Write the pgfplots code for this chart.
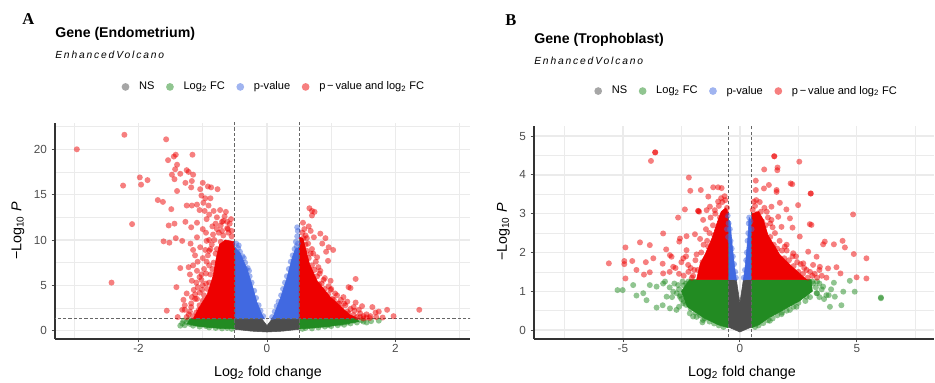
\documentclass[border=0pt]{standalone}
\usepackage{fontspec}
\setmainfont{Liberation Sans}
\newfontfamily\serifb{Liberation Serif}
\usepackage{pgfplots}
\pgfplotsset{compat=1.18}
\definecolor{nsc}{HTML}{4D4D4D}
\definecolor{fcc}{HTML}{228B22}
\definecolor{pvc}{HTML}{4169E1}
\definecolor{bothc}{HTML}{EE0000}
\definecolor{gridc}{HTML}{EBEBEB}
\definecolor{tickc}{HTML}{4D4D4D}
\pgfplotsset{
 legend image code/.code={\draw[#1] plot coordinates {(0pt,0pt)}; \path (-2.9pt,0pt) (8pt,0pt);},
 volc/.style={
  scale only axis,
  axis x line*=bottom, axis y line*=left,
  axis line style={draw=black!80, line width=0.8pt},
  tick align=outside,
  major tick length=2.5pt,
  minor tick length=0pt,
  tick style={draw=black!70, line width=0.6pt},
  grid=both,
  major grid style={draw=gridc, line width=1pt},
  minor grid style={draw=gridc, line width=0.55pt},
  tick label style={font=\fontsize{8.8}{10}\selectfont, text=tickc},
  xticklabel style={yshift=2pt},
  legend columns=4,
  legend style={draw=none, fill=none, font=\fontsize{8.3}{10}\selectfont, anchor=center,
    /tikz/every even column/.append style={column sep=6.5pt}},
 },
 pts/.style={only marks, mark=*, mark size=2.25pt, color=#1, mark options={solid, fill=#1, draw opacity=0, fill opacity=0.5}, forget plot},
 poly/.style={fill=#1, draw=#1, line width=0.4pt, forget plot},
 lg/.style={only marks, mark=*, mark size=2.9pt, color=#1, mark options={solid, fill=#1, draw opacity=0, fill opacity=0.5}},
 cut/.style={forget plot, draw=black!60, dash pattern=on 2.4pt off 1.6pt, line width=0.6pt},
}
\begin{document}
\begin{tikzpicture}
\useasboundingbox (0,0) rectangle (701.25pt,286.5pt);
% ---------------- Panel A ----------------
\begin{axis}[volc, at={(41.25pt,32.25pt)}, anchor=south west, width=311.25pt, height=162pt,
  xmin=-3.3, xmax=3.16, ymin=-0.92, ymax=22.9,
  xtick={-2,0,2}, xticklabels={-2,0,2}, minor xtick={-3,-1,1,3},
  ytick={0,5,10,15,20}, yticklabels={0,5,10,15,20}, minor ytick={2.5,7.5,12.5,17.5,22.5},
  legend style={at={(0.528,1.167)}}]
\addlegendimage{lg=nsc}\addlegendentry{NS}
\addlegendimage{lg=fcc}\addlegendentry{Log\textsubscript{2} FC}
\addlegendimage{lg=pvc}\addlegendentry{p-value}
\addlegendimage{lg=bothc}\addlegendentry{p\,\textminus\,value and log\textsubscript{2} FC}
% dense cores
\addplot[poly=nsc] coordinates {(-0.5,0.15) (-0.5,1.3) (-0.08,1.3) (0,0.55) (0.08,1.3) (0.5,1.3) (0.5,0.15) (0.25,-0.05) (0,-0.15) (-0.25,-0.05)} --cycle;
\addplot[poly=fcc] coordinates {(-0.5,0.2) (-0.5,1.3) (-1.2,1.3) (-1.24,0.75) (-1.1,0.5) (-0.9,0.35) (-0.7,0.25)} --cycle;
\addplot[poly=fcc] coordinates {(0.5,0.2) (0.5,1.3) (1.4,1.3) (1.43,1.0) (1.2,0.7) (0.95,0.45) (0.7,0.28)} --cycle;
\addplot[poly=pvc] coordinates {(-0.5,1.3) (-0.5,9.2) (-0.42,8.6) (-0.31,6.8) (-0.23,5.0) (-0.16,3.2) (-0.08,1.8) (-0.04,1.3)} --cycle;
\addplot[poly=pvc] coordinates {(0.07,1.3) (0.1,1.6) (0.21,3.6) (0.31,5.8) (0.39,8.0) (0.44,9.0) (0.5,9.2) (0.5,1.3)} --cycle;
\addplot[poly=bothc] coordinates {(-0.5,1.3) (-1.15,1.3) (-1.06,2.5) (-0.93,4) (-0.84,6) (-0.79,8) (-0.74,9.5) (-0.65,10.0) (-0.5,9.8)} --cycle;
\addplot[poly=bothc] coordinates {(0.5,1.3) (0.5,10.3) (0.56,10.2) (0.66,7.4) (0.78,5.5) (0.98,3.75) (1.28,1.8) (1.43,1.3)} --cycle;
% scattered points
\addplot[pts=fcc] coordinates {(-1.35,0.55) (-1.32,0.8) (-1.28,0.6) (-1.25,0.95) (-1.2,0.75) (-1.15,0.55) (-1.1,0.9) (-1.05,0.45) (-1.0,0.7) (-0.95,0.5) (-0.9,0.35) (-0.85,0.6) (-0.8,0.3) (-0.75,0.45) (-0.7,0.25) (-0.62,0.3) (-0.55,0.2) (-1.3,1.1) (-1.22,1.2)
 (0.55,0.2) (0.6,0.3) (0.7,0.25) (0.8,0.35) (0.9,0.45) (1.0,0.5) (1.1,0.6) (1.2,0.65) (1.3,0.8) (1.4,0.9) (1.5,1.0) (1.55,0.9) (1.62,1.05) (1.74,1.1) (1.47,1.15) (1.35,1.1) (1.25,0.9) (1.15,0.8) (0.95,0.6)};
\addplot[pts=pvc] coordinates {(-0.48,9.6) (-0.45,9.1) (-0.42,8.7) (-0.38,8.2) (-0.34,7.5) (-0.3,6.9) (-0.27,6.0) (-0.24,5.3) (-0.2,4.4) (-0.17,3.6) (-0.13,2.8) (-0.1,2.2) (-0.06,1.6) (-0.36,8.0) (-0.33,6.8) (-0.28,6.6) (-0.44,9.4)
 (0.08,1.5) (0.12,2.1) (0.15,2.7) (0.18,3.2) (0.22,3.9) (0.25,4.6) (0.28,5.3) (0.31,6.0) (0.34,6.8) (0.37,7.6) (0.4,8.3) (0.43,9.0) (0.46,9.3) (0.48,9.6) (0.47,10.4) (0.48,11.0) (0.47,11.4) (0.45,9.8)};
\addplot[pts=bothc] coordinates {
 (-2.96,20.0) (-2.22,21.6) (-2.24,16.0) (-1.98,16.9) (-1.96,16.1) (-1.86,16.6) (-2.10,11.75) (-2.42,5.3)
 (-1.57,21.1) (-1.70,14.4) (-1.62,14.2) (-1.54,18.8) (-1.45,19.2) (-1.42,19.4) (-1.48,17.2) (-1.44,16.7)
 (-1.40,18.3) (-1.43,17.8) (-1.35,17.3) (-1.40,15.4) (-1.49,13.4) (-1.53,11.6) (-1.44,11.8) (-1.61,9.85)
 (-1.52,9.7) (-1.42,10.2) (-1.35,6.9) (-1.41,4.8) (-1.56,2.2) (-1.32,2.3) (-1.28,2.3) (-1.39,1.5)
 (-1.16,19.4) (-1.25,17.7) (-1.22,17.5) (-1.15,17.2) (-1.27,16.3) (-1.17,16.5) (-1.18,15.8) (-1.04,15.6)
 (-1.00,16.3) (-0.92,15.9) (-0.87,15.8) (-0.77,15.6) (-1.02,14.9) (-0.96,14.6) (-0.88,14.6) (-1.25,13.8)
 (-1.17,13.8) (-1.09,13.9) (-0.99,14.1) (-0.91,13.8) (-1.05,13.3) (-0.97,13.2) (-0.83,13.2) (-0.73,13.3)
 (-0.64,13.1) (-0.56,12.3) (-1.27,12.0) (-1.18,11.4) (-1.09,11.9) (-0.94,12.3) (-0.78,12.5) (-0.68,12.1)
 (-0.61,11.2) (-1.32,9.9) (-1.19,9.6) (-1.09,10.3) (-1.04,9.2) (-1.15,8.9) (-0.94,9.9) (-1.22,7.0)
 (-1.15,7.2) (-1.09,6.6) (-1.05,5.9) (-1.17,5.5) (-1.25,4.1) (-1.17,3.7) (-1.09,3.5) (-1.01,4.5)
 (-0.95,5.2) (-1.18,2.6) (-1.06,2.3)
 (-1.15,1.6) (-1.1,2.0) (-1.05,2.8) (-1.0,3.3) (-0.98,3.9) (-0.93,4.6) (-0.9,5.3) (-0.88,6.2) (-0.85,6.8)
 (-0.83,7.5) (-0.8,8.5) (-0.78,9.0) (-0.72,9.8) (-0.68,10.5) (-0.6,10.8) (-0.55,10.4) (-0.62,11.3) (-0.7,11.0)
 (-0.9,7.2) (-0.95,6.3) (-1.0,5.0) (-1.05,4.2) (-1.12,3.5) (-1.2,2.1) (-1.25,1.5) (-1.28,2.8) (-0.92,8.3)
 (-0.88,9.0) (-0.82,10.0) (-0.75,10.8) (-0.58,11.8) (-0.66,12.6) (-0.85,11.5) (-0.95,10.8) (-1.0,8.0)
 (-1.08,7.6) (-0.9,10.0) (-0.8,11.8) (-0.9,12.8) (-0.72,11.6) (-1.0,11.2) (-1.12,8.3) (-1.2,6.2) (-1.3,3.4)
 (-1.22,1.8) (-1.18,3.0) (-1.12,4.0) (-1.08,4.8) (-1.02,5.6) (-0.98,6.8) (-0.94,7.6) (-0.9,8.8) (-0.86,9.5)
 (-0.84,10.6) (-0.78,11.2) (-0.7,12.0) (-0.62,12.0) (-0.55,11.0) (-1.02,6.2) (-0.96,8.9) (-1.1,5.3) (-1.14,4.5)
 (0.66,13.5) (0.70,13.2) (0.74,13.1) (0.70,12.7) (0.56,11.9) (0.65,11.5) (0.58,11.2) (0.68,11.0) (0.83,10.7)
 (0.73,10.3) (0.91,10.2) (0.86,9.6) (0.96,9.2) (1.03,8.9) (0.92,8.7) (0.95,7.7) (0.68,8.5) (0.78,8.1)
 (0.83,6.6) (0.99,5.5) (1.38,5.7) (0.81,5.1) (1.27,4.8) (1.30,4.7) (1.09,3.9) (1.19,3.7) (1.25,3.2)
 (1.38,3.1) (1.48,2.7) (1.64,2.6) (1.87,2.3) (2.37,2.3) (1.97,1.6) (1.69,2.0) (1.74,2.1) (1.55,1.8)
 (1.43,2.3) (1.35,2.6) (1.04,3.4) (1.12,3.0) (0.88,3.7) (0.99,4.5) (1.14,2.3) (1.27,1.9) (1.45,1.5) (1.61,1.6)
 (1.4,1.5) (1.35,1.7) (1.25,2.1) (1.15,2.5) (1.1,3.0) (1.02,3.5) (0.95,4.0) (0.9,4.6) (0.85,5.2) (0.78,6.0)
 (0.74,6.7) (0.7,7.2) (0.65,8.0) (0.62,8.8) (0.6,9.5) (0.57,10.2) (0.55,10.8) (0.6,10.5) (1.05,2.8) (1.2,3.0)
 (0.9,5.8) (0.8,7.0) (0.72,8.5) (1.3,2.4) (1.5,1.6) (1.55,1.45) (1.0,4.6) (0.95,3.5)
 (1.5,1.35) (1.45,1.9) (1.36,2.2) (1.22,2.8) (1.15,3.4) (1.06,4.1) (0.96,4.9) (0.88,5.6) (0.82,6.3) (0.76,7.6)
 (0.7,9.0) (0.64,9.6) (0.62,10.2) (1.6,1.4) (1.7,1.5) (1.8,1.45)};
\addplot[cut] coordinates {(-0.5,-5) (-0.5,30)};
\addplot[cut] coordinates {(0.5,-5) (0.5,30)};
\addplot[cut] coordinates {(-5,1.3) (5,1.3)};
\end{axis}
% ---------------- Panel B ----------------
\begin{axis}[volc, at={(400.5pt,32.25pt)}, anchor=south west, width=300pt, height=159.75pt,
  xmin=-8.8, xmax=8.3, ymin=-0.23, ymax=5.26,
  xtick={-5,0,5}, xticklabels={-5,0,5}, minor xtick={-7.5,-2.5,2.5,7.5},
  ytick={0,1,2,3,4,5}, yticklabels={0,1,2,3,4,5}, minor ytick={0.5,1.5,2.5,3.5,4.5},
  legend style={at={(0.532,1.164)}}]
\addlegendimage{lg=nsc}\addlegendentry{NS}
\addlegendimage{lg=fcc}\addlegendentry{Log\textsubscript{2} FC}
\addlegendimage{lg=pvc}\addlegendentry{p-value}
\addlegendimage{lg=bothc}\addlegendentry{p\,\textminus\,value and log\textsubscript{2} FC}
\addplot[poly=nsc] coordinates {(-0.5,0.08) (-0.5,1.3) (-0.15,1.3) (0,0.7) (0.15,1.3) (0.5,1.3) (0.5,0.08) (0,-0.05)} --cycle;
\addplot[poly=fcc] coordinates {(-0.5,0.06) (-0.5,1.3) (-2.15,1.3) (-2.5,1.0) (-2.25,0.6) (-1.5,0.3) (-0.9,0.13)} --cycle;
\addplot[poly=fcc] coordinates {(0.5,0.06) (0.5,1.3) (3.05,1.3) (3.1,1.0) (2.55,0.75) (1.8,0.5) (1.2,0.3) (0.8,0.13)} --cycle;
\addplot[poly=pvc] coordinates {(-0.5,1.3) (-0.5,2.85) (-0.42,2.8) (-0.33,2.2) (-0.22,1.6) (-0.15,1.3)} --cycle;
\addplot[poly=pvc] coordinates {(0.15,1.3) (0.22,1.6) (0.33,2.3) (0.4,2.9) (0.5,2.8) (0.5,1.3)} --cycle;
\addplot[poly=bothc] coordinates {(-0.5,1.3) (-1.85,1.3) (-1.7,1.7) (-1.45,2.0) (-1.17,2.4) (-0.98,2.75) (-0.8,3.05) (-0.6,3.15) (-0.5,3.0)} --cycle;
\addplot[poly=bothc] coordinates {(0.5,1.3) (0.5,3.0) (0.8,3.05) (1.0,2.85) (1.2,2.45) (1.7,1.95) (2.2,1.65) (2.85,1.3)} --cycle;
\addplot[pts=fcc] coordinates {(-5.23,1.03) (-5.01,1.03) (-4.56,1.16) (-4.13,0.95) (-4.42,0.89) (-3.99,0.77) (-3.56,0.58) (-3.30,0.64)
 (-2.99,0.56) (-2.71,0.52) (-3.13,0.86) (-2.85,0.99) (-3.56,1.12) (-3.85,1.16) (-3.28,1.20) (-2.64,1.16) (-2.42,0.69)
 (-2.14,0.43) (-1.85,0.34) (-1.57,0.26) (-2.56,0.86) (-2.28,1.03)
 (-2.2,1.25) (-2.4,1.15) (-2.6,1.05) (-2.7,0.95) (-2.5,0.8) (-2.3,0.65) (-2.1,0.55) (-1.9,0.45) (-1.7,0.38) (-1.5,0.3)
 (-1.3,0.22) (-1.1,0.17) (-0.9,0.12) (-0.7,0.08) (-2.8,1.2) (-3.0,1.1) (-2.9,0.85) (-2.6,0.6) (-2.0,0.35) (-1.6,0.2)
 (-3.2,1.25) (-2.45,1.25) (-2.3,1.2) (-2.55,0.9) (-2.4,0.75) (-1.8,0.55) (-1.2,0.35)
 (6.03,0.82) (6.03,0.84) (4.91,0.99) (4.42,0.99) (4.34,0.64) (3.85,0.60) (4.06,0.86) (4.02,1.22) (4.70,1.27) (3.56,1.12)
 (3.28,0.95) (2.85,0.86) (2.42,0.60) (1.78,0.41) (1.28,0.24) (2.71,1.12) (3.13,1.20) (2.14,0.52) (3.70,0.90)
 (3.1,1.25) (3.25,1.1) (3.3,0.95) (3.0,0.85) (2.8,0.75) (2.5,0.7) (2.3,0.6) (2.0,0.5) (1.8,0.45) (1.6,0.38) (1.4,0.3)
 (1.2,0.25) (1.0,0.18) (0.8,0.12) (0.65,0.08) (3.4,1.2) (3.5,1.05) (2.7,0.95) (2.2,0.75) (3.6,0.8) (3.9,1.05) (3.8,0.9)
 (3.3,1.25) (3.4,0.85) (2.9,1.05) (2.4,0.85) (1.6,0.5) (1.0,0.3)};
\addplot[pts=pvc] coordinates {(-0.52,2.95) (-0.48,2.75) (-0.43,2.6) (-0.4,2.3) (-0.35,2.1) (-0.3,1.9) (-0.25,1.7) (-0.2,1.5) (-0.17,1.35) (-0.55,2.6) (-0.5,2.4)
 (0.17,1.35) (0.22,1.55) (0.27,1.8) (0.3,2.0) (0.33,2.3) (0.36,2.5) (0.38,2.75) (0.4,2.9) (0.45,2.8) (0.5,2.6)};
\addplot[pts=bothc] coordinates {
 (-3.62,4.58) (-3.62,4.58) (-3.80,4.36) (-2.18,3.93) (-2.12,3.59) (-1.67,3.61) (-1.78,3.07) (-1.78,3.07) (-1.74,3.05)
 (-2.35,3.11) (-2.64,2.90) (-3.28,2.49) (-4.89,2.13) (-4.27,2.26) (-3.85,2.19) (-3.15,2.08) (-4.94,1.78) (-4.94,1.70)
 (-4.60,1.78) (-4.02,1.75) (-5.60,1.72) (-4.42,1.55) (-4.10,1.43) (-3.85,1.49) (-4.89,1.33) (-3.30,1.71) (-2.99,1.93)
 (-2.56,2.36) (-2.59,2.28) (-2.28,2.06) (-1.92,2.47) (-1.14,3.68) (-0.93,3.68) (-0.78,3.66) (-1.35,3.44) (-1.28,3.18)
 (-0.93,3.31) (-1.57,2.84) (-1.42,3.09) (-1.07,3.09) (-2.28,2.42) (-2.92,1.89) (-3.70,1.85) (-2.85,1.63) (-2.42,1.85)
 (-2.21,1.68) (-3.28,1.46)
 (-2.0,1.4) (-2.1,1.6) (-1.9,1.8) (-1.8,1.55) (-1.65,2.0) (-1.55,2.2) (-1.4,2.3) (-1.3,2.5) (-1.15,2.7) (-1.05,3.0)
 (-0.9,3.2) (-0.75,3.3) (-0.62,3.35) (-0.55,3.15) (-0.7,3.0) (-1.25,2.9) (-1.45,2.6) (-2.2,1.5) (-2.4,1.4) (-1.7,2.35)
 (-0.85,2.9) (-2.5,1.75) (-2.3,1.9) (-0.6,3.05)
 (-2.05,1.35) (-1.95,1.55) (-1.85,1.95) (-1.6,1.75) (-1.35,2.15) (-1.1,2.45) (-0.95,2.6) (-0.8,3.4) (-0.65,3.45)
 (-2.6,1.45) (-2.75,1.6) (-3.0,1.5)
 (1.47,4.48) (1.47,4.48) (1.61,4.19) (1.60,4.12) (2.54,4.34) (1.04,4.14) (0.68,3.85) (0.68,3.61) (1.03,3.65) (1.24,3.74)
 (1.57,3.61) (1.57,3.56) (2.17,3.78) (2.24,3.76) (3.03,3.52) (3.03,3.52) (2.49,3.22) (1.71,3.28) (1.99,3.11) (1.35,3.18)
 (0.60,3.31) (4.84,2.98) (2.99,2.73) (3.06,2.71) (2.25,2.64) (2.56,2.41) (3.63,2.28) (3.56,2.21) (4.02,2.21) (4.39,2.30)
 (4.49,2.13) (4.87,1.96) (5.41,1.85) (4.99,1.36) (5.41,1.33) (4.30,1.46) (3.77,1.59) (4.13,1.62) (3.42,1.63) (3.28,1.89)
 (2.92,2.02) (2.28,1.98) (1.92,2.15) (1.78,2.66) (1.35,2.84) (1.64,2.92) (2.14,2.88) (2.71,1.72) (3.13,1.68) (2.85,1.55)
 (0.55,3.1) (0.65,3.2) (0.75,3.0) (0.9,3.05) (0.95,2.8) (1.1,2.7) (1.2,2.9) (1.3,2.4) (1.45,2.2) (1.6,2.1) (1.8,2.05)
 (1.9,1.85) (2.1,1.8) (2.3,1.65) (2.5,1.5) (2.7,1.45) (2.9,1.35) (3.1,1.4) (3.3,1.35) (2.6,1.7) (2.0,2.2) (1.5,2.5)
 (1.3,2.75) (0.85,3.3) (2.4,1.9) (3.5,1.4)
 (0.7,3.35) (1.05,3.15) (1.15,3.05) (1.4,2.65) (1.7,2.3) (2.0,2.05) (2.25,1.9) (2.45,1.75) (2.75,1.6) (3.0,1.5)
 (3.2,1.45) (3.4,1.55) (3.7,1.35)};
\addplot[cut] coordinates {(-0.5,-5) (-0.5,30)};
\addplot[cut] coordinates {(0.5,-5) (0.5,30)};
\end{axis}
% ---------------- Texts ----------------
\node[anchor=base west, inner sep=0pt, font=\serifb\fontsize{12.4}{14}\selectfont\bfseries] at (16.5pt,267.75pt) {A};
\node[anchor=base west, inner sep=0pt, font=\fontsize{10.6}{12}\selectfont\bfseries] at (41.25pt,258.4pt) {Gene (Endometrium)};
\node[anchor=base west, inner sep=0pt, font=\fontsize{7.7}{9}\selectfont\itshape\addfontfeatures{LetterSpace=18}] at (41.25pt,242.5pt) {EnhancedVolcano};
\node[anchor=base west, inner sep=0pt, font=\serifb\fontsize{12.4}{14}\selectfont\bfseries] at (378.75pt,267pt) {B};
\node[anchor=base west, inner sep=0pt, font=\fontsize{10.6}{12}\selectfont\bfseries] at (400.5pt,254pt) {Gene (Trophoblast)};
\node[anchor=base west, inner sep=0pt, font=\fontsize{7.7}{9}\selectfont\itshape\addfontfeatures{LetterSpace=18}] at (400.5pt,238.3pt) {EnhancedVolcano};
\node[rotate=90, inner sep=0pt, font=\fontsize{10.7}{12}\selectfont] at (13.5pt,113.25pt) {\textminus Log\textsubscript{10} \textit{P}};
\node[rotate=90, inner sep=0pt, font=\fontsize{10.7}{12}\selectfont] at (377.5pt,112.5pt) {\textminus Log\textsubscript{10} \textit{P}};
\node[inner sep=0pt, font=\fontsize{10.7}{12}\selectfont] at (201pt,6.75pt) {Log\textsubscript{2} fold change};
\node[inner sep=0pt, font=\fontsize{10.7}{12}\selectfont] at (556.5pt,6.75pt) {Log\textsubscript{2} fold change};
\end{tikzpicture}
\end{document}
